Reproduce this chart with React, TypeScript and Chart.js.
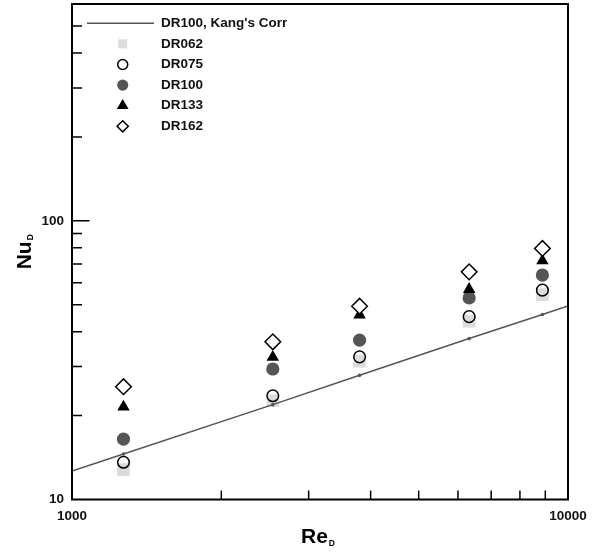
import React, { useEffect, useRef } from 'react';
import { Chart, registerables } from 'chart.js';
import { drawPoint } from 'chart.js/helpers';

Chart.register(...registerables);

// ---- data ----
const reynolds = [1270, 2540, 3800, 6320, 8880];
const corrRe = [1000, 1270, 2540, 3800, 6320, 8880, 10000];
const corrNu = [12.64, 14.56, 21.9, 27.9, 37.8, 46.1, 49.5];
const dr062 = [12.8, 22.65, 31.4, 43.7, 54.4];
const dr075 = [13.6, 23.56, 32.5, 45.3, 56.4];
const dr100 = [16.48, 29.4, 37.3, 52.9, 63.9];
const dr133 = [21.5, 32.4, 46.0, 56.8, 72.0];
const dr162 = [25.4, 36.8, 49.4, 65.6, 79.6];

const seriesLabels = ["DR100, Kang's Corr", 'DR062', 'DR075', 'DR100', 'DR133', 'DR162'];

const xLabelTicks = [1000, 10000];
const yLabelTicks = [10, 100];
const xMinorTicks = [2000, 3000, 4000, 5000, 6000, 7000, 8000, 9000];
const yMinorTicks = [20, 30, 40, 50, 60, 70, 80, 90, 200, 300, 400, 500];
const yMajorTicks = [100];

const xTitle = 'Re';
const yTitle = 'Nu';
const titleSub = 'D';

const FONT = '"Liberation Sans", Arial, Helvetica, sans-serif';
const legendRadius = [0, 6.4, 5, 5.6, 6.8, 5.6];

const pts = (xs: number[], ys: number[]) => xs.map((x, i) => ({ x, y: ys[i] }));

const decor = {
  id: 'decor',
  afterDatasetsDraw(chart: any) {
    const { ctx, chartArea: a, scales } = chart;
    const xs = scales.x;
    const ys = scales.y;
    ctx.save();
    ctx.strokeStyle = '#000';
    ctx.lineWidth = 1.5;
    ctx.beginPath();
    xMinorTicks.forEach((v) => {
      const px = xs.getPixelForValue(v);
      ctx.moveTo(px, a.bottom);
      ctx.lineTo(px, a.bottom - 9);
    });
    yMinorTicks.forEach((v) => {
      const py = ys.getPixelForValue(v);
      ctx.moveTo(a.left, py);
      ctx.lineTo(a.left + 10, py);
    });
    yMajorTicks.forEach((v) => {
      const py = ys.getPixelForValue(v);
      ctx.moveTo(a.left, py);
      ctx.lineTo(a.left + 17.5, py);
    });
    ctx.stroke();
    ctx.lineWidth = 2;
    ctx.strokeRect(a.left, a.top, a.right - a.left, a.bottom - a.top);
    ctx.restore();
  },
  afterDraw(chart: any) {
    const { ctx, chartArea: a } = chart;
    ctx.save();
    // legend
    chart.data.datasets.forEach((ds: any, i: number) => {
      const y = a.top + 19.3 + i * 20.6;
      if (ds.showLine) {
        ctx.strokeStyle = ds.borderColor;
        ctx.lineWidth = ds.borderWidth;
        ctx.beginPath();
        ctx.moveTo(a.left + 15, y);
        ctx.lineTo(a.left + 82, y);
        ctx.stroke();
      } else {
        ctx.fillStyle = ds.pointBackgroundColor === 'rgba(0,0,0,0)' ? '#fff' : ds.pointBackgroundColor;
        ctx.strokeStyle = ds.pointBorderColor;
        ctx.lineWidth = ds.pointBorderWidth;
        drawPoint(ctx, {
          pointStyle: ds.pointStyle,
          radius: legendRadius[i],
          borderWidth: ds.pointBorderWidth,
          rotation: 0,
        } as any, a.left + 50.7, y);
      }
      ctx.fillStyle = '#111';
      ctx.font = `bold 13.5px ${FONT}`;
      ctx.textAlign = 'left';
      ctx.textBaseline = 'middle';
      ctx.fillText(ds.label, a.left + 89, y);
    });

    // x title
    ctx.fillStyle = '#000';
    ctx.textBaseline = 'alphabetic';
    ctx.textAlign = 'left';
    ctx.font = `bold 21px ${FONT}`;
    const wRe = ctx.measureText(xTitle).width;
    ctx.font = `bold 8.5px ${FONT}`;
    const wD = ctx.measureText(titleSub).width;
    const total = wRe + 1 + wD;
    const sx = (a.left + a.right) / 2 - total / 2 - 2;
    const by = a.bottom + 43;
    ctx.font = `bold 21px ${FONT}`;
    ctx.fillText(xTitle, sx, by);
    ctx.font = `bold 8.5px ${FONT}`;
    ctx.fillText(titleSub, sx + wRe + 1, by + 3);

    // y title (rotated)
    ctx.font = `bold 21px ${FONT}`;
    const wNu = ctx.measureText(yTitle).width;
    const totY = wNu + 1 + wD;
    const cy = (a.top + a.bottom) / 2 + totY / 2;
    ctx.translate(a.left - 41, cy);
    ctx.rotate(-Math.PI / 2);
    ctx.fillText(yTitle, 0, 0);
    ctx.font = `bold 8.5px ${FONT}`;
    ctx.fillText(titleSub, wNu + 1, 2);
    ctx.restore();
  },
};

export default function App() {
  const ref = useRef<HTMLCanvasElement>(null);

  useEffect(() => {
    const tickFont = { family: FONT, size: 13.5, weight: 'bold' as const };
    const chart = new Chart(ref.current!, {
      type: 'scatter',
      data: {
        datasets: [
          {
            label: seriesLabels[0],
            data: pts(corrRe, corrNu),
            showLine: true,
            borderColor: '#555',
            borderWidth: 1.5,
            pointStyle: 'circle',
            pointRadius: corrRe.map((_, i) => (i === 0 || i === corrRe.length - 1 ? 0 : 1.8)),
            pointBackgroundColor: '#555',
            pointBorderColor: '#555',
            pointBorderWidth: 0,
            order: 4,
          } as any,
          {
            label: seriesLabels[1],
            data: pts(reynolds, dr062),
            pointStyle: 'rect',
            pointRadius: 9,
            pointBackgroundColor: '#dcdcdc',
            pointBorderColor: '#dcdcdc',
            pointBorderWidth: 0,
            order: 5,
          },
          {
            label: seriesLabels[2],
            data: pts(reynolds, dr075),
            pointStyle: 'circle',
            pointRadius: 5.8,
            pointBackgroundColor: 'rgba(0,0,0,0)',
            pointBorderColor: '#000',
            pointBorderWidth: 1.5,
            order: 3,
          },
          {
            label: seriesLabels[3],
            data: pts(reynolds, dr100),
            pointStyle: 'circle',
            pointRadius: 6.6,
            pointBackgroundColor: '#555',
            pointBorderColor: '#555',
            pointBorderWidth: 0,
            order: 2,
          },
          {
            label: seriesLabels[4],
            data: pts(reynolds, dr133),
            pointStyle: 'triangle',
            pointRadius: 7.2,
            pointBackgroundColor: '#000',
            pointBorderColor: '#000',
            pointBorderWidth: 0,
            order: 1,
          },
          {
            label: seriesLabels[5],
            data: pts(reynolds, dr162),
            pointStyle: 'rectRot',
            pointRadius: 7.8,
            pointBackgroundColor: '#fff',
            pointBorderColor: '#000',
            pointBorderWidth: 1.5,
            order: 0,
          },
        ],
      },
      options: {
        responsive: false,
        animation: false,
        events: [],
        layout: { autoPadding: false, padding: { top: 4, right: 33, left: 0, bottom: 0 } },
        plugins: {
          legend: { display: false },
          tooltip: { enabled: false },
        },
        scales: {
          x: {
            type: 'logarithmic',
            position: 'bottom',
            min: 1000,
            max: 10000,
            grid: { display: false, drawTicks: false },
            border: { display: false },
            ticks: {
              font: tickFont,
              color: '#111',
              padding: 9,
              maxRotation: 0,
              autoSkip: false,
              callback: (v: any) => String(v),
            },
            afterBuildTicks: (s: any) => {
              s.ticks = xLabelTicks.map((v) => ({ value: v }));
            },
            afterFit: (s: any) => {
              s.height = 53.5;
              s.paddingLeft = 0;
              s.paddingRight = 0;
            },
          },
          y: {
            type: 'logarithmic',
            position: 'left',
            min: 10,
            max: 600,
            grid: { display: false, drawTicks: false },
            border: { display: false },
            ticks: {
              font: tickFont,
              color: '#111',
              padding: 8,
              autoSkip: false,
              callback: (v: any) => String(v),
            },
            afterBuildTicks: (s: any) => {
              s.ticks = yLabelTicks.map((v) => ({ value: v }));
            },
            afterFit: (s: any) => {
              s.width = 72;
              s.paddingTop = 0;
              s.paddingBottom = 0;
            },
          },
        },
      },
      plugins: [decor],
    });
    return () => chart.destroy();
  }, []);

  return (
    <div style={{ position: 'fixed', left: 0, top: 0, width: 601, height: 553, background: '#fff' }}>
      <canvas ref={ref} width={601} height={553} style={{ display: 'block', width: 601, height: 553 }} />
    </div>
  );
}
